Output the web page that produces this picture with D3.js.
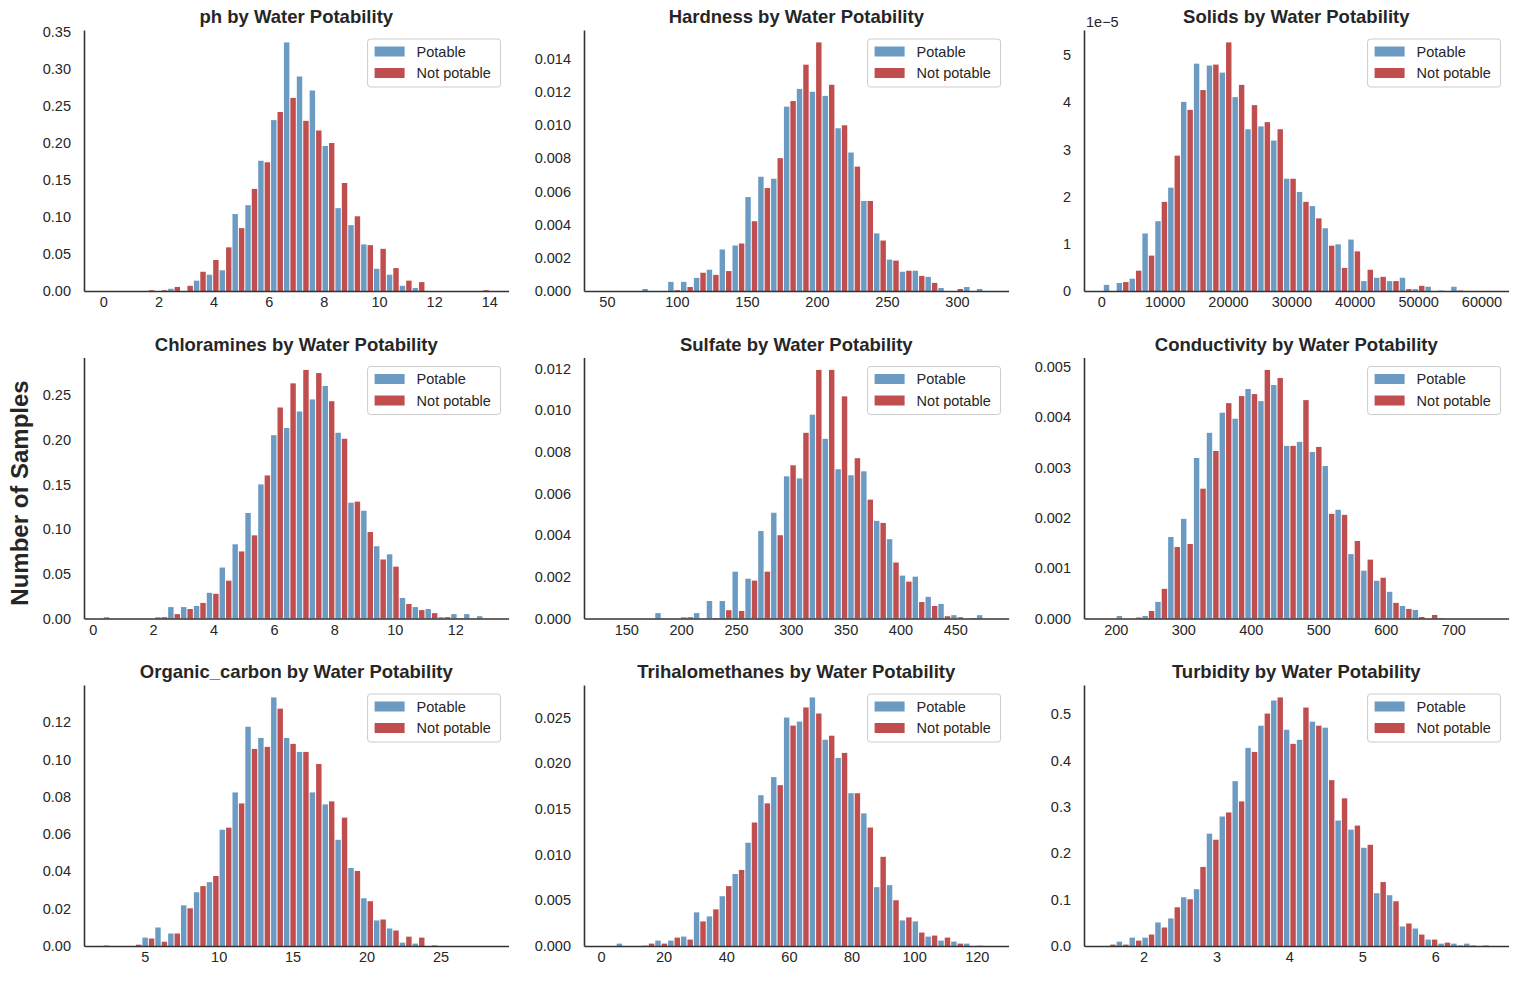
<!DOCTYPE html>
<html>
<head>
<meta charset="utf-8">
<script src="https://cdn.jsdelivr.net/npm/d3@7"></script>
<style>
  body { margin: 0; background: #fff; }
  text { font-family: "Liberation Sans", Arial, sans-serif; }
</style>
</head>
<body>
<div id="chart"></div>
<script>
// one histogram per feature, 30 bins, density per class (seaborn dodge look)
const features = ['ph', 'Hardness', 'Solids', 'Chloramines', 'Sulfate', 'Conductivity',
  'Organic_carbon', 'Trihalomethanes', 'Turbidity'];
const seriesNames = ['Potable', 'Not potable'];
const nBins = 30;

// data min / max of each feature (bin edges)
const ranges = [[0, 14], [47.43, 323.12], [320.94, 61227.2], [0.352, 13.127], [129.0, 481.03],
  [181.48, 753.34], [2.2, 28.3], [0.738, 124.0], [1.45, 6.739]];

const xTicks = [
  [0, 2, 4, 6, 8, 10, 12, 14],
  [50, 100, 150, 200, 250, 300],
  [0, 10000, 20000, 30000, 40000, 50000, 60000],
  [0, 2, 4, 6, 8, 10, 12],
  [150, 200, 250, 300, 350, 400, 450],
  [200, 300, 400, 500, 600, 700],
  [5, 10, 15, 20, 25],
  [0, 20, 40, 60, 80, 100, 120],
  [2, 3, 4, 5, 6]
];
const yTicks = [
  [0, 0.05, 0.10, 0.15, 0.20, 0.25, 0.30, 0.35],
  [0, 0.002, 0.004, 0.006, 0.008, 0.010, 0.012, 0.014],
  [0, 1, 2, 3, 4, 5],
  [0, 0.05, 0.10, 0.15, 0.20, 0.25],
  [0, 0.002, 0.004, 0.006, 0.008, 0.010, 0.012],
  [0, 0.001, 0.002, 0.003, 0.004, 0.005],
  [0, 0.02, 0.04, 0.06, 0.08, 0.10, 0.12],
  [0, 0.005, 0.010, 0.015, 0.020, 0.025],
  [0, 0.1, 0.2, 0.3, 0.4, 0.5]
];
const yDecimals = [2, 3, 0, 2, 3, 3, 2, 3, 1];
const yOffsetText = ['', '', '1e\u22125', '', '', '', '', '', ''];

// densities, potable / not potable
const phPotable = [0, 0, 0, 0, 0, 0.003, 0, 0.014, 0.022, 0.028, 0.104, 0.116, 0.176, 0.231, 0.336,
  0.290, 0.271, 0.196, 0.112, 0.089, 0.063, 0.030, 0.022, 0.007, 0.004, 0, 0, 0, 0, 0];
const phNotPotable = [0, 0, 0, 0.001, 0.001, 0.0055, 0.007, 0.026, 0.042, 0.059, 0.085, 0.138, 0.174, 0.242, 0.261,
  0.230, 0.217, 0.200, 0.146, 0.101, 0.062, 0.057, 0.031, 0.014, 0.012, 0, 0, 0, 0, 0.001];

const hardnessPotable = [0, 0, 0, 0.00012, 0, 0.00055, 0.00055, 0.00079, 0.00128, 0.0025, 0.00274, 0.00566,
  0.00688, 0.00676, 0.0111, 0.01217, 0.0120, 0.01175, 0.0098, 0.00834, 0.00542, 0.00347, 0.00189,
  0.00116, 0.00122, 0.00085, 0.00018, 0, 0.00024, 0.00012];
const hardnessNotPotable = [0, 0, 0, 0, 0, 0.00005, 0.00024, 0.0011, 0.00097, 0.0012, 0.00286, 0.0042,
  0.0062, 0.0080, 0.01144, 0.01363, 0.01497, 0.01242, 0.00998, 0.00749, 0.00542, 0.00304, 0.00183,
  0.00122, 0.00091, 0.00049, 0, 0.00012, 0, 0];

// solids in units of 1e-5
const solidsPotable = [0.13, 0.17, 0.26, 1.22, 1.48, 2.19, 4.01, 4.82, 4.78, 4.63, 4.11, 3.43, 3.49, 3.19,
  2.38, 2.10, 1.80, 1.33, 0.99, 1.09, 0.21, 0.28, 0.21, 0.28, 0.04, 0.09, 0.01, 0.09, 0, 0];
const solidsNotPotable = [0, 0.19, 0.43, 0.75, 1.89, 2.87, 3.84, 4.26, 4.80, 5.27, 4.37, 3.94, 3.58, 3.43,
  2.38, 1.89, 1.54, 0.96, 0.49, 0.84, 0.45, 0.30, 0.21, 0.04, 0.11, 0, 0, 0.01, 0, 0];

const chloraminesPotable = [0.0015, 0, 0, 0, 0.0015, 0.0128, 0.0128, 0.014, 0.0287, 0.057, 0.083, 0.118,
  0.150, 0.205, 0.213, 0.2315, 0.245, 0.260, 0.2077, 0.1295, 0.1205, 0.0808, 0.0718, 0.023, 0.0128,
  0.0106, 0.0015, 0.0049, 0.0049, 0.0026];
const chloraminesNotPotable = [0, 0, 0, 0, 0.0015, 0.0049, 0.0106, 0.0174, 0.0276, 0.0423, 0.075, 0.093,
  0.160, 0.236, 0.263, 0.278, 0.2745, 0.243, 0.201, 0.1307, 0.0967, 0.066, 0.058, 0.0162, 0.0094,
  0.006, 0.0015, 0.0005, 0, 0];

const sulfatePotable = [0, 0, 0, 0, 0.00026, 0, 0.00006, 0.00026, 0.00084, 0.00084, 0.00225, 0.00191,
  0.0042, 0.00508, 0.00683, 0.00673, 0.00979, 0.00863, 0.00717, 0.00688, 0.00707, 0.00469, 0.00381,
  0.00206, 0.00201, 0.00104, 0.0007, 0.00016, 0, 0.00016];
const sulfateNotPotable = [0, 0, 0, 0, 0, 0, 0.00006, 0, 0.00002, 0.0004, 0.00036, 0.00182,
  0.00225, 0.0040, 0.00736, 0.00892, 0.01194, 0.01194, 0.01067, 0.0077, 0.00571, 0.00459, 0.00269,
  0.00177, 0.00079, 0.0006, 0.00011, 0.00006, 0.00002, 0];

const conductivityPotable = [0, 0.00005, 0, 0.00005, 0.00033, 0.00162, 0.00198, 0.00319, 0.00369, 0.00409,
  0.00397, 0.00456, 0.00432, 0.00464, 0.00343, 0.00351, 0.00331, 0.00303, 0.00216, 0.00128, 0.00095,
  0.00075, 0.00053, 0.00025, 0.00017, 0, 0.00001, 0, 0, 0];
const conductivityNotPotable = [0, 0, 0.00002, 0.00015, 0.00059, 0.00142, 0.00148, 0.00258, 0.00333, 0.00428,
  0.00442, 0.00446, 0.00494, 0.00478, 0.00343, 0.00434, 0.00341, 0.00208, 0.00206, 0.00154, 0.00117,
  0.00081, 0.00031, 0.00019, 0.00003, 0.00007, 0, 0, 0, 0];

const organicPotable = [0.0003, 0, 0, 0.0045, 0.0099, 0.0067, 0.0218, 0.0288, 0.0342, 0.0623, 0.0823, 0.1175,
  0.1115, 0.1332, 0.1115, 0.104, 0.0823, 0.0759, 0.0569, 0.0418, 0.0256, 0.0137, 0.0094, 0.0018,
  0.0013, 0, 0, 0, 0, 0];
const organicNotPotable = [0, 0, 0.0007, 0.004, 0.0023, 0.0067, 0.0202, 0.0321, 0.0375, 0.0634, 0.0764, 0.1056,
  0.1067, 0.1272, 0.1083, 0.104, 0.0975, 0.0775, 0.0688, 0.0402, 0.024, 0.0142, 0.0083, 0.005,
  0.0045, 0.0003, 0, 0, 0, 0];

const thmPotable = [0, 0.00026, 0, 0.00004, 0.00059, 0.00059, 0.00103, 0.00368, 0.00324, 0.00545, 0.00788,
  0.0113, 0.0165, 0.01848, 0.025, 0.02456, 0.0272, 0.02257, 0.02058, 0.01672, 0.01451, 0.00644,
  0.00666, 0.0028, 0.00269, 0.00103, 0.00059, 0.00048, 0.00026, 0.00004];
const thmNotPotable = [0, 0, 0, 0.00026, 0.00026, 0.00092, 0.0007, 0.00269, 0.00401, 0.00655, 0.00832,
  0.01351, 0.01561, 0.0176, 0.02412, 0.0261, 0.02544, 0.02301, 0.02113, 0.01672, 0.01296, 0.00976,
  0.00501, 0.00313, 0.00147, 0.00114, 0.00092, 0.00026, 0, 0];

const turbidityPotable = [0, 0.0094, 0.018, 0.018, 0.0508, 0.0595, 0.1052, 0.1226, 0.2424, 0.2794, 0.3556,
  0.4274, 0.4753, 0.5297, 0.4666, 0.4448, 0.484, 0.471, 0.2707, 0.2511, 0.2119, 0.1139, 0.1096,
  0.0421, 0.0377, 0.0138, 0.0051, 0.0051, 0.0051, 0];
const turbidityNotPotable = [0.003, 0.003, 0.0116, 0.0247, 0.0399, 0.0835, 0.1009, 0.1705, 0.2293, 0.2881, 0.312,
  0.4187, 0.5015, 0.5363, 0.4361, 0.5145, 0.4753, 0.3578, 0.3186, 0.2598, 0.2184, 0.1379, 0.0965,
  0.0486, 0.0247, 0.0138, 0.0073, 0.001, 0.001, 0.001];

const potableSeries = [phPotable, hardnessPotable, solidsPotable, chloraminesPotable, sulfatePotable,
  conductivityPotable, organicPotable, thmPotable, turbidityPotable];
const notPotableSeries = [phNotPotable, hardnessNotPotable, solidsNotPotable, chloraminesNotPotable,
  sulfateNotPotable, conductivityNotPotable, organicNotPotable, thmNotPotable, turbidityNotPotable];

const width = 1516;
const height = 983;
const margin = { left: 84, top: 30 };
const axW = 424.6, axH = 261, colStep = 500, rowStep = 327.5;
const colors = ['steelblue', 'firebrick'];
const ink = '#262626';

const svg = d3.select('#chart')
  .append('svg')
  .attr('width', width)
  .attr('height', height);

features.forEach((name, i) => {
  const left = margin.left + (i % 3) * colStep;
  const top = margin.top + Math.floor(i / 3) * rowStep;
  const [lo, hi] = ranges[i];
  const pad = (hi - lo) * 0.05;
  const step = (hi - lo) / nBins;

  const x = d3.scaleLinear()
    .domain([lo - pad, hi + pad])
    .range([left, left + axW]);

  const ymax = d3.max(potableSeries[i].concat(notPotableSeries[i])) * 1.05;
  const y = d3.scaleLinear()
    .domain([0, ymax])
    .range([top + axH, top]);

  // dodge: potable on the left half of each bin, not potable on the right
  const bars = [];
  potableSeries[i].forEach((v, k) => bars.push({ x0: lo + k * step, x1: lo + (k + 0.5) * step, v, c: colors[0] }));
  notPotableSeries[i].forEach((v, k) => bars.push({ x0: lo + (k + 0.5) * step, x1: lo + (k + 1) * step, v, c: colors[1] }));

  svg.append('g')
    .selectAll('rect')
    .data(bars.filter(d => d.v > 0))
    .join('rect')
      .attr('x', d => x(d.x0) + 0.5)
      .attr('width', d => x(d.x1) - x(d.x0) - 1)
      .attr('y', d => y(d.v))
      .attr('height', d => y(0) - y(d.v))
      .attr('fill', d => d.c)
      .attr('fill-opacity', 0.8);

  const xAxis = svg.append('g')
    .attr('transform', `translate(0,${top + axH})`)
    .call(d3.axisBottom(x).tickValues(xTicks[i]).tickSize(0).tickSizeOuter(0).tickPadding(6).tickFormat(d3.format('d')));
  const yAxis = svg.append('g')
    .attr('transform', `translate(${left},0)`)
    .call(d3.axisLeft(y).tickValues(yTicks[i]).tickSize(0).tickSizeOuter(0).tickPadding(13)
      .tickFormat(d3.format(`.${yDecimals[i]}f`)));

  [xAxis, yAxis].forEach(g => {
    g.attr('font-size', '14.5px')
      .attr('font-family', '"Liberation Sans", Arial, sans-serif')
      .attr('color', ink);
    g.select('.domain').attr('stroke', '#333').attr('stroke-width', 1.6);
  });

  if (yOffsetText[i]) {
    svg.append('text')
      .attr('x', left + 2)
      .attr('y', top - 3)
      .attr('font-size', '14.5px')
      .attr('fill', ink)
      .text(yOffsetText[i]);
  }

  svg.append('text')
    .attr('x', left + axW / 2)
    .attr('y', top - 7)
    .attr('text-anchor', 'middle')
    .attr('font-size', '18.5px')
    .attr('font-weight', 'bold')
    .attr('fill', ink)
    .text(`${name} by Water Potability`);

  // legend
  const lw = 133, lh = 48;
  const lg = svg.append('g')
    .attr('transform', `translate(${left + axW - 8 - lw},${top + 9})`);
  lg.append('rect')
    .attr('width', lw)
    .attr('height', lh)
    .attr('rx', 3)
    .attr('fill', '#fff')
    .attr('fill-opacity', 0.8)
    .attr('stroke', '#cccccc');
  seriesNames.forEach((s, k) => {
    const cy = 12.5 + k * 21.5;
    lg.append('rect')
      .attr('x', 7)
      .attr('y', cy - 5)
      .attr('width', 30)
      .attr('height', 10)
      .attr('fill', colors[k])
      .attr('fill-opacity', 0.8);
    lg.append('text')
      .attr('x', 49)
      .attr('y', cy)
      .attr('dy', '0.35em')
      .attr('font-size', '14.5px')
      .attr('fill', ink)
      .text(s);
  });
});

svg.append('text')
  .attr('transform', 'translate(28,493) rotate(-90)')
  .attr('text-anchor', 'middle')
  .attr('font-size', '24px')
  .attr('font-weight', 'bold')
  .attr('fill', ink)
  .text('Number of Samples');
</script>
</body>
</html>
